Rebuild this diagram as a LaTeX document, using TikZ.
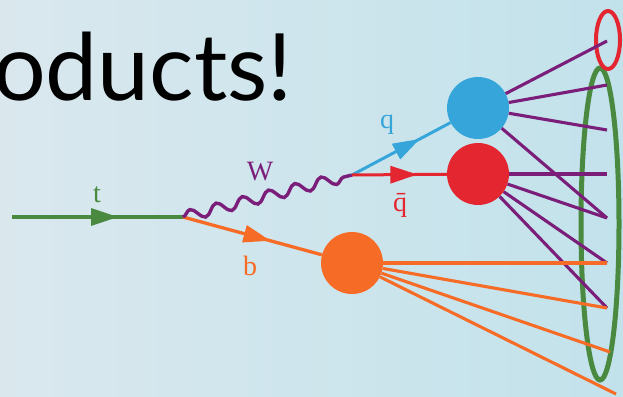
\documentclass[tikz,border=0pt]{standalone}
\usepackage{fontspec}
\setmainfont{Liberation Serif}
\newfontfamily\titlefont{Lato}
\usetikzlibrary{arrows.meta,decorations.pathmorphing,decorations.markings,shapes.geometric}
\definecolor{cgreen}{RGB}{74,137,64}
\definecolor{cpurple}{RGB}{122,30,122}
\definecolor{corange}{RGB}{246,108,38}
\definecolor{cblue}{RGB}{54,166,218}
\definecolor{cred}{RGB}{228,38,48}
\definecolor{bgleft}{RGB}{218,232,238}
\definecolor{bgright}{RGB}{194,226,235}
\tikzset{
  blob/.style={circle,fill=#1,minimum size=62pt,inner sep=0pt},
  prop/.style={line width=3.3pt,draw=#1},
  hadron/.style={line width=3.1pt,draw=#1},
  midarrow/.style={postaction={decorate},decoration={markings,mark=at position #1 with {\arrow{Triangle[length=27pt,width=17pt]}}}},
  lbl/.style={font=\fontsize{28}{28}\selectfont,text=#1,anchor=base,inner sep=0pt},
  jet/.style={ellipse,draw=#1,inner sep=0pt}
}
\begin{document}
\begin{tikzpicture}[x=1pt,y=-1pt]
\shade[left color=bgleft,right color=bgright] (0,0) rectangle (623,396);
\useasboundingbox (0,0) rectangle (623,396);
\node[anchor=base east,inner sep=0pt,font=\titlefont\fontsize{93}{93}\selectfont] (title) at (293,100) {oducts!};
% jets (ellipses)
\node[jet=cgreen,line width=5pt,minimum width=38pt,minimum height=312pt] (jetall) at (600,224) {};
\node[jet=cred,line width=4pt,minimum width=24pt,minimum height=58pt] (jetq) at (608,40) {};
% vertices and blobs
\coordinate (tin) at (12,217);
\coordinate (v1) at (183,217);
\coordinate (v2) at (352,175);
\node[blob=cblue] (qb) at (478,108) {};
\node[blob=cred] (qbarb) at (478,174) {};
\node[blob=corange] (bb) at (352,263) {};
% end points
\foreach \n/\y in {41/41,85/85,130/130,174/174,218/218,263/263,308/308}{\coordinate (e\n) at (607,\y);}
\coordinate (e352) at (610,352);
\coordinate (e392) at (616,394);
% hadrons
\draw[hadron=cpurple] (qb) -- (e41);
\draw[hadron=cpurple] (qb) -- (e85);
\draw[hadron=cpurple] (qb) -- (e130);
\draw[hadron=cpurple] (qb) -- (e218);
\draw[hadron=cpurple] (qbarb) -- (e174);
\draw[hadron=cpurple] (qbarb) -- (e218);
\draw[hadron=cpurple] (qbarb) -- (e263);
\draw[hadron=cpurple] (qbarb) -- (e308);
\draw[hadron=corange] (bb) -- (e263);
\draw[hadron=corange] (bb) -- (e308);
\draw[hadron=corange] (bb) -- (e352);
\draw[hadron=corange] (bb) -- (e392);
% propagators
\draw[prop=cgreen,fill=cgreen,midarrow=0.62] (tin) -- (v1);
\draw[prop=corange,fill=corange,midarrow=0.63] (v1) -- (bb);
\draw[prop=cpurple,line width=3.4pt,decorate,decoration={snake,segment length=27pt,amplitude=5.5pt}] (v1) -- (v2);
\draw[prop=cblue,line width=3pt,fill=cblue,midarrow=0.69] (v2) -- (qb);
\draw[prop=cred,line width=3pt,fill=cred,midarrow=0.69] (v2) -- (qbarb);
% labels
\node[lbl=cgreen] (lt) at (97,202) {t};
\node[lbl=cpurple] (lW) at (260,180) {W};
\node[lbl=corange] (lb) at (250,275) {b};
\node[lbl=cblue] (lq) at (387,128) {q};
\node[lbl=cred] (lqbar) at (400,211) {q̄};
\end{tikzpicture}
\end{document}
